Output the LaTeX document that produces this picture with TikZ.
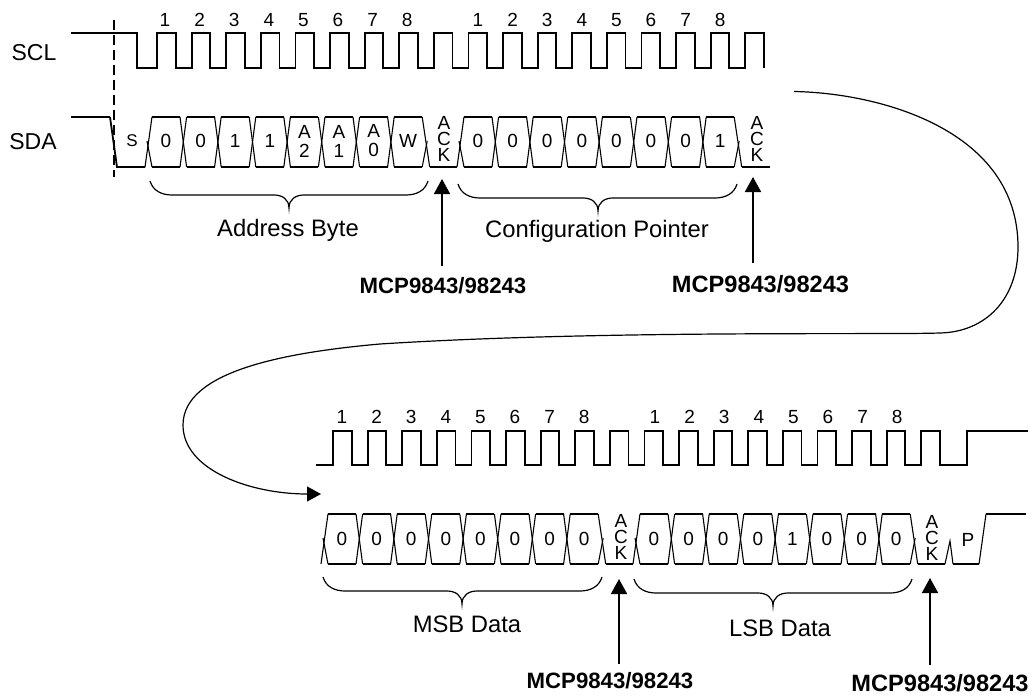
\documentclass[tikz,border=0pt]{standalone}
\usepackage{fontspec}
\setmainfont{Liberation Sans}
\usetikzlibrary{arrows.meta}

\tikzset{
  clockline/.style={line width=1.8pt, line join=miter},
  dataline/.style={line width=1.8pt},
  slantline/.style={line width=1.1pt},
  startline/.style={line width=1.5pt, dash pattern=on 10pt off 5pt},
  bracket/.style={line width=1.2pt},
  flowcurve/.style={line width=1.2pt, -{Triangle[length=14pt,width=15pt]}},
  ackarrow/.style={line width=1.7pt, -{Triangle[length=15pt,width=16pt]}},
  siglabel/.style={inner sep=0pt, font=\fontsize{23}{25}\selectfont},
  bytelabel/.style={inner sep=0pt, font=\fontsize{23.8}{26}\selectfont},
  mcplabel/.style={inner sep=0pt, font=\fontsize{22.2}{24}\selectfont\bfseries},
  mcpwide/.style={inner sep=0pt, font=\fontsize{23.6}{24}\selectfont\bfseries},
  ticktext/.style={inner sep=0pt, font=\fontsize{19}{21}\selectfont},
  bittext/.style={inner sep=0pt, align=center, font=\fontsize{19}{19}\selectfont},
  acktext/.style={inner sep=0pt, align=center, font=\fontsize{19}{15.7}\selectfont},
}

% #1 left edge of first cell, #2 top level
\newcommand{\byterow}[2]{
  \foreach \i in {0,...,7}{
    \draw[dataline] ({#1+34.6*\i},#2) -- ++(28,0);
    \draw[dataline] ({#1+34.6*\i},{#2+50}) -- ++(28,0);
  }
  \foreach \i in {0,...,6}{
    \draw[slantline] ({#1+28+34.6*\i},#2) -- ++(6.6,50);
    \draw[slantline] ({#1+28+34.6*\i},{#2+50}) -- ++(6.6,-50);
  }
  \draw[slantline] ({#1-7},{#2+50}) -- (#1,#2);
  \draw[slantline] (#1,{#2+50}) -- ({#1-5},{#2+24});
  \draw[slantline] ({#1+270.2},#2) -- ++(7.5,50);
  \draw[slantline] ({#1+270.2},{#2+50}) -- ++(5,-26);
}

% #1 left end, #2 tip x, #3 right end, #4 top of the hooks
\newcommand{\bytebrace}[4]{
  \draw[bracket] (#1,#4) .. controls ({#1+3},{#4+10}) and ({#1+12},{#4+14}) .. ({#1+22},{#4+14})
    -- ({#2-15},{#4+14}) .. controls ({#2-7},{#4+14}) and (#2,{#4+18}) .. (#2,{#4+27})
    .. controls (#2,{#4+18}) and ({#2+7},{#4+14}) .. ({#2+15},{#4+14})
    -- ({#3-22},{#4+14}) .. controls ({#3-12},{#4+14}) and ({#3-3},{#4+10}) .. (#3,#4);
}

\begin{document}
\begin{tikzpicture}[x=1pt,y=-1pt]
  \useasboundingbox (0,0) rectangle (1031,696);

  \node[siglabel] (scl) at (34,53) {SCL};
  \node[siglabel] (sda) at (33,141.5) {SDA};

  % clocks
  \draw[clockline] (71,33) -- (137,33) -- (137,68)
    \foreach \k in {0,...,17}{ -- ({157+34.6*\k},68) -- ++(0,-35) -- ++(18.6,0) -- ++(0,35)};
  \draw[clockline] (316,465)
    \foreach \k in {0,...,17}{ -- ({333+34.6*\k},465) -- ++(0,-34) -- ++(18.6,0) -- ++(0,34)}
    -- (967,465) -- (967,431) -- (1028,431);

  \foreach \k in {0,...,7}{
    \node[ticktext] (ta\k) at ({165+34.6*\k},20) {\the\numexpr\k+1\relax};
    \node[ticktext] (tb\k) at ({478+34.6*\k},20) {\the\numexpr\k+1\relax};
    \node[ticktext] (tc\k) at ({342+34.6*\k},417) {\the\numexpr\k+1\relax};
    \node[ticktext] (td\k) at ({655+34.6*\k},417) {\the\numexpr\k+1\relax};
  }

  \draw[startline] (114,20) -- (114,177);

  % data lines
  \draw[dataline] (71,117) -- (110,117);
  \draw[dataline] (110,117) -- (117,167) -- (145,167);
  \byterow{152}{117}
  \draw[dataline] (429.7,167) -- (457,167);
  \byterow{464}{117}
  \draw[dataline] (741.7,167) -- (770,167);

  \byterow{328}{514}
  \draw[dataline] (605.7,564) -- (633,564);
  \byterow{640}{514}
  \draw[dataline] (917.7,564) -- (945,564);
  \draw[slantline] (945,564) -- (950,541) -- (953,564);
  \draw[dataline] (953,564) -- (979,564);
  \draw[slantline] (979,564) -- (986,514);
  \draw[dataline] (986,514) -- (1026,514);

  \node[bittext] (bs) at (132,141) {\fontsize{17}{19}\selectfont S};
  \foreach \i/\b in {0/0,1/0,2/1,3/1,4/{A\\2},5/{A\\1},6/{A\\0},7/W}{
    \node[bittext] (ba\i) at ({166+34.6*\i},141) {\b};
  }
  \foreach \i/\b in {0/0,1/0,2/0,3/0,4/0,5/0,6/0,7/1}{
    \node[bittext] (bb\i) at ({478+34.6*\i},141) {\b};
  }
  \foreach \i/\b in {0/0,1/0,2/0,3/0,4/0,5/0,6/0,7/0}{
    \node[bittext] (bc\i) at ({342+34.6*\i},539) {\b};
  }
  \foreach \i/\b in {0/0,1/0,2/0,3/0,4/1,5/0,6/0,7/0}{
    \node[bittext] (bd\i) at ({654+34.6*\i},539) {\b};
  }
  \node[bittext] (bp) at (968,540) {P};

  \node[acktext] (acka) at (444,139) {A\\C\\K};
  \node[acktext] (ackb) at (757,139) {A\\C\\K};
  \node[acktext] (ackc) at (621,537) {A\\C\\K};
  \node[acktext] (ackd) at (932,538) {A\\C\\K};

  % braces
  \bytebrace{150}{289}{428}{181}
  \bytebrace{458}{598}{737}{184}
  \bytebrace{323}{462}{602}{577}
  \bytebrace{634}{773}{912}{579}

  \node[bytelabel] (addr) at (288,230) {Address Byte};
  \node[bytelabel] (conf) at (597,231) {Configuration Pointer};
  \node[bytelabel] (msb) at (467,624) {MSB Data};
  \node[bytelabel] (lsb) at (780,628) {LSB Data};

  % acknowledge arrows
  \coordinate (tipa) at (442,179);
  \coordinate (tipb) at (753,177);
  \coordinate (tipc) at (619,579);
  \coordinate (tipd) at (930,578);
  \node[mcplabel] (mcpa) at (443,286) {MCP9843/98243};
  \node[mcpwide] (mcpb) at (760.5,284) {MCP9843/98243};
  \node[mcplabel] (mcpc) at (610,681) {MCP9843/98243};
  \node[mcpwide] (mcpd) at (940,683) {MCP9843/98243};
  \coordinate (foota) at (442,266);
  \coordinate (footb) at (753,263);
  \coordinate (footc) at (619,664);
  \coordinate (footd) at (930,665);
  \draw[ackarrow] (foota) -- (tipa);
  \draw[ackarrow] (footb) -- (tipb);
  \draw[ackarrow] (footc) -- (tipc);
  \draw[ackarrow] (footd) -- (tipd);

  % curve between the two rows
  \coordinate (flowa) at (794,91.5);
  \coordinate (flowb) at (321,494);
  \draw[flowcurve] (flowa) .. controls (880,93) and (1018,130) .. (1018,247)
    .. controls (1018,300) and (985,332) .. (940,333)
    .. controls (880,335) and (600,330) .. (380,344)
    .. controls (290,352) and (183,370) .. (183,425)
    .. controls (183,470) and (250,494) .. (flowb);
\end{tikzpicture}
\end{document}
